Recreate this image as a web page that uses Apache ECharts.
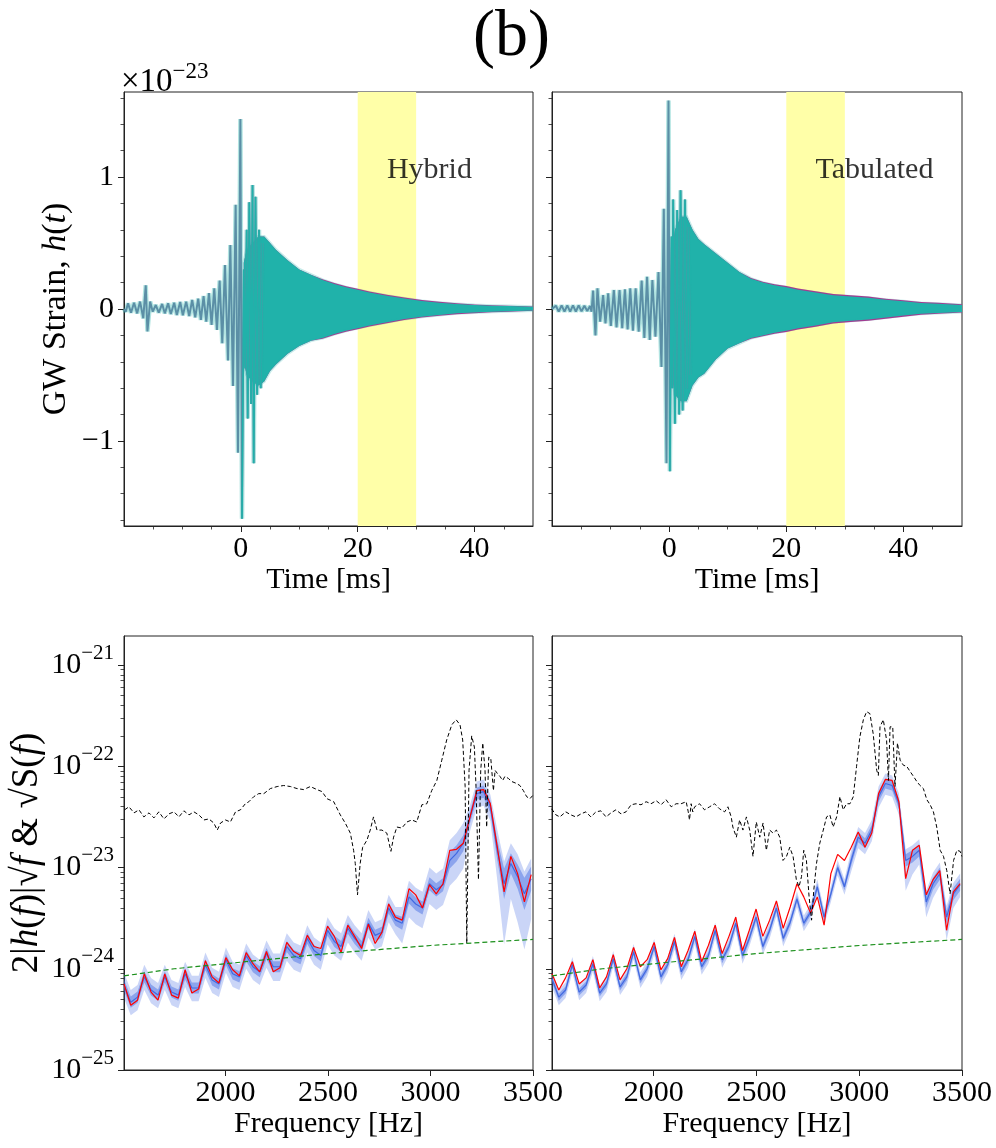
<!DOCTYPE html>
<html><head><meta charset="utf-8">
<script src="https://cdn.jsdelivr.net/npm/echarts@6/dist/echarts.min.js"></script>
<style>html,body{margin:0;padding:0;background:#fff}#c{width:996px;height:1148px}</style>
</head><body><div id="c"></div>
<script>
// ---------------- DATA ----------------
// Top panels: time [ms], strain in units of 1e-23
const windowMs = [20, 30];
const panelTitles = ['Hybrid', 'Tabulated'];
const labelPos = [25, 1.0];
// inspiral / merger peaks (line)
const tlPeakT = [-20,-19.7,-19.31,-18.8,-18.28,-17.75,-17.25,-16.7,-16.28,-15.99,-15.53,-15.08,-14.56,-14.05,-13.47,-13.02,-12.45,-11.99,-11.41,-10.96,-10.38,-9.93,-9.36,-8.84,-8.33,-7.81,-7.30,-6.84,-6.38,-5.92,-5.46,-5.01,-4.55,-4.09,-3.63,-3.18,-2.72,-2.20,-1.80,-1.35,-0.89,-0.49,-0.08,0.20,0.5,0.75,1.0,1.17,1.45,1.75,2.0,2.2,2.5,2.78,3.1,3.4,3.7];
const tlPeakH = [0.0,-0.02,0.043,-0.028,0.048,-0.033,0.056,-0.07,0.18,-0.17,0.056,-0.02,0.03,-0.028,0.038,-0.033,0.043,-0.038,0.048,-0.045,0.053,-0.048,0.056,-0.053,0.068,-0.063,0.078,-0.083,0.098,-0.096,0.12,-0.12,0.157,-0.159,0.215,-0.26,0.333,-0.39,0.485,-0.583,0.79,-1.09,1.44,-1.59,0.30,-0.45,0.60,-0.83,0.81,-0.72,0.94,-1.17,0.85,-0.65,0.6,-0.6,0.5];
const trPeakT = [-20,-19.8,-19.34,-18.85,-18.36,-17.87,-17.39,-16.9,-16.42,-15.93,-15.45,-14.96,-14.47,-13.98,-13.50,-13.25,-12.98,-12.58,-12.24,-11.78,-11.27,-10.87,-10.41,-9.95,-9.44,-8.98,-8.47,-8.01,-7.55,-7.09,-6.64,-6.18,-5.72,-5.20,-4.69,-4.23,-3.77,-3.31,-2.86,-2.34,-1.82,-1.31,-0.91,-0.45,-0.11,0.12,0.40,0.55,0.69,0.98,1.38,1.72,1.95,2.3,2.7,3.0,3.27,3.6];
const trPeakH = [0,-0.015,0.025,-0.02,0.028,-0.02,0.028,-0.02,0.028,-0.02,0.028,-0.018,0.025,-0.015,0.022,-0.02,0.14,-0.2,0.157,-0.096,0.106,-0.109,0.119,-0.129,0.144,-0.139,0.144,-0.146,0.149,-0.154,0.157,-0.164,0.157,-0.172,0.215,-0.22,0.245,-0.235,0.22,-0.21,0.28,-0.44,0.76,-1.17,1.58,-1.23,0.55,-0.6,0.83,-0.87,0.75,-0.8,0.9,-0.77,0.83,-0.6,0.62,-0.5];
// post-merger envelopes (dense ringdown)
const envT = [0.5,1,2,3,4,5,6,8,10,12,14,16,18,20,22,25,28,31,34,37,40,43,46,50];
const tlTealHi = [0.35,0.45,0.5,0.55,0.55,0.50,0.45,0.37,0.30,0.26,0.22,0.19,0.165,0.145,0.125,0.10,0.08,0.06,0.048,0.038,0.03,0.025,0.022,0.018];
const tlTealLo = [-0.40,-0.5,-0.55,-0.58,-0.55,-0.47,-0.42,-0.34,-0.28,-0.24,-0.22,-0.19,-0.165,-0.145,-0.125,-0.10,-0.075,-0.058,-0.045,-0.033,-0.027,-0.02,-0.018,-0.012];
const tlMagHi = [0.35,0.45,0.5,0.55,0.55,0.50,0.45,0.37,0.30,0.26,0.225,0.197,0.172,0.153,0.133,0.108,0.087,0.068,0.055,0.044,0.035,0.028,0.024,0.019];
const tlMagLo = [-0.40,-0.5,-0.55,-0.58,-0.55,-0.47,-0.42,-0.34,-0.28,-0.24,-0.225,-0.197,-0.172,-0.153,-0.133,-0.108,-0.083,-0.065,-0.052,-0.04,-0.032,-0.024,-0.02,-0.014];
const trTealHi = [0.45,0.6,0.7,0.7,0.6,0.53,0.49,0.42,0.35,0.28,0.23,0.2,0.18,0.165,0.145,0.125,0.105,0.095,0.085,0.07,0.058,0.045,0.04,0.03];
const trTealLo = [-0.5,-0.65,-0.7,-0.7,-0.58,-0.52,-0.49,-0.38,-0.30,-0.26,-0.22,-0.2,-0.18,-0.165,-0.145,-0.125,-0.10,-0.09,-0.08,-0.065,-0.05,-0.036,-0.03,-0.022];
const trMagHi = [0.45,0.6,0.7,0.7,0.6,0.53,0.49,0.42,0.35,0.28,0.235,0.207,0.188,0.174,0.155,0.134,0.114,0.104,0.094,0.078,0.066,0.053,0.047,0.036];
const trMagLo = [-0.5,-0.65,-0.7,-0.7,-0.58,-0.52,-0.49,-0.38,-0.30,-0.26,-0.225,-0.207,-0.188,-0.174,-0.155,-0.134,-0.11,-0.099,-0.089,-0.073,-0.058,-0.044,-0.036,-0.027];

// Bottom panels: frequency [Hz], values as log10 of amplitude
const freq = [1505,1538,1571,1604,1637,1671,1704,1737,1770,1803,1836,1869,1902,1935,1968,2002,2035,2068,2101,2134,2167,2200,2233,2266,2299,2333,2366,2399,2432,2465,2498,2531,2564,2597,2630,2664,2697,2730,2763,2796,2829,2862,2895,2928,2961,2995,3028,3061,3094,3127,3160,3193,3226,3259,3292,3326,3359,3392,3425,3458,3491];
const blRed = [-24.15,-24.36,-24.31,-24.05,-24.23,-24.31,-24.05,-24.26,-24.29,-24.01,-24.24,-24.20,-23.92,-24.08,-24.14,-23.89,-24.01,-24.07,-23.84,-23.95,-24.03,-23.83,-24.03,-23.99,-23.74,-23.83,-23.87,-23.67,-23.78,-23.80,-23.58,-23.68,-23.84,-23.57,-23.68,-23.80,-23.56,-23.75,-23.64,-23.36,-23.49,-23.52,-23.21,-23.27,-23.40,-23.17,-23.26,-23.16,-22.83,-22.82,-22.76,-22.50,-22.24,-22.23,-22.37,-22.80,-23.24,-22.89,-23.06,-23.34,-23.07];
const blMed = [-24.16,-24.33,-24.28,-24.08,-24.21,-24.26,-24.08,-24.23,-24.26,-24.05,-24.19,-24.19,-23.96,-24.11,-24.15,-23.91,-24.05,-24.08,-23.87,-23.98,-24.03,-23.85,-23.98,-23.98,-23.78,-23.87,-23.90,-23.70,-23.82,-23.87,-23.62,-23.73,-23.78,-23.60,-23.70,-23.78,-23.55,-23.67,-23.64,-23.40,-23.52,-23.55,-23.29,-23.36,-23.40,-23.16,-23.22,-23.17,-22.93,-22.86,-22.76,-22.50,-22.27,-22.25,-22.40,-22.83,-23.16,-22.96,-23.09,-23.26,-23.11];
const blW50 = [0.055,0.055,0.055,0.055,0.055,0.055,0.055,0.055,0.055,0.055,0.055,0.055,0.055,0.055,0.055,0.055,0.055,0.055,0.055,0.055,0.055,0.055,0.055,0.055,0.055,0.055,0.055,0.055,0.055,0.055,0.055,0.055,0.055,0.055,0.055,0.055,0.055,0.055,0.055,0.055,0.055,0.065,0.065,0.065,0.065,0.065,0.065,0.065,0.08,0.08,0.08,0.06,0.06,0.06,0.06,0.1,0.15,0.1,0.12,0.16,0.12];
const blW90hi = [0.12,0.12,0.12,0.12,0.12,0.12,0.12,0.12,0.12,0.12,0.12,0.12,0.12,0.12,0.12,0.12,0.12,0.12,0.12,0.12,0.12,0.13,0.13,0.13,0.13,0.13,0.13,0.13,0.13,0.13,0.13,0.13,0.13,0.13,0.13,0.13,0.13,0.13,0.13,0.13,0.13,0.16,0.16,0.16,0.16,0.16,0.16,0.16,0.2,0.2,0.2,0.12,0.12,0.12,0.12,0.2,0.22,0.2,0.22,0.22,0.2];
const blW90lo = [0.13,0.13,0.13,0.13,0.13,0.13,0.13,0.13,0.13,0.13,0.13,0.13,0.13,0.13,0.13,0.13,0.13,0.13,0.13,0.13,0.13,0.14,0.14,0.14,0.14,0.14,0.14,0.14,0.14,0.14,0.14,0.14,0.14,0.14,0.14,0.14,0.14,0.14,0.14,0.14,0.14,0.2,0.2,0.2,0.2,0.2,0.2,0.2,0.25,0.25,0.25,0.14,0.14,0.14,0.14,0.3,0.6,0.35,0.45,0.55,0.4];
const brRed = [-24.05,-24.21,-24.09,-23.93,-24.15,-24.09,-23.91,-24.19,-24.08,-23.86,-24.11,-24.00,-23.79,-23.98,-23.91,-23.74,-24.01,-23.90,-23.69,-23.98,-23.82,-23.63,-23.93,-23.77,-23.57,-23.85,-23.68,-23.49,-23.82,-23.62,-23.41,-23.68,-23.52,-23.33,-23.60,-23.39,-23.16,-23.29,-23.45,-23.29,-23.57,-23.06,-22.87,-22.93,-22.80,-22.65,-22.80,-22.66,-22.27,-22.13,-22.14,-22.35,-23.11,-22.83,-22.78,-23.27,-23.12,-23.03,-23.62,-23.24,-23.16];
const brMed = [-24.10,-24.28,-24.21,-23.96,-24.23,-24.16,-23.95,-24.24,-24.15,-23.90,-24.18,-24.08,-23.83,-24.11,-24.00,-23.78,-24.08,-23.96,-23.73,-24.03,-23.91,-23.68,-23.98,-23.87,-23.62,-23.91,-23.78,-23.55,-23.87,-23.70,-23.49,-23.78,-23.62,-23.40,-23.70,-23.54,-23.31,-23.55,-23.44,-23.19,-23.49,-23.26,-23.00,-23.19,-22.93,-22.70,-22.76,-22.63,-22.30,-22.17,-22.19,-22.37,-22.93,-22.89,-22.83,-23.34,-23.16,-23.06,-23.49,-23.26,-23.17];
const brW50 = [0.035,0.035,0.035,0.035,0.035,0.035,0.035,0.035,0.035,0.035,0.035,0.035,0.035,0.035,0.035,0.035,0.035,0.035,0.035,0.035,0.035,0.035,0.035,0.035,0.035,0.035,0.035,0.035,0.035,0.035,0.035,0.035,0.035,0.035,0.035,0.035,0.035,0.035,0.035,0.035,0.035,0.035,0.035,0.035,0.05,0.05,0.05,0.05,0.05,0.05,0.05,0.05,0.06,0.06,0.06,0.06,0.06,0.06,0.06,0.06,0.06];
const brW90hi = [0.075,0.075,0.075,0.075,0.075,0.075,0.075,0.075,0.075,0.075,0.075,0.075,0.075,0.075,0.075,0.075,0.075,0.075,0.075,0.075,0.075,0.075,0.075,0.075,0.075,0.075,0.075,0.075,0.075,0.075,0.075,0.075,0.075,0.075,0.075,0.075,0.075,0.075,0.075,0.075,0.075,0.075,0.075,0.075,0.1,0.1,0.1,0.1,0.1,0.1,0.1,0.1,0.11,0.11,0.11,0.11,0.11,0.11,0.11,0.11,0.11];
const brW90lo = [0.08,0.08,0.08,0.08,0.08,0.08,0.08,0.08,0.08,0.08,0.08,0.08,0.08,0.08,0.08,0.08,0.08,0.08,0.08,0.08,0.08,0.08,0.08,0.08,0.08,0.08,0.08,0.08,0.08,0.08,0.08,0.08,0.08,0.08,0.08,0.08,0.08,0.08,0.08,0.08,0.08,0.08,0.08,0.08,0.11,0.11,0.11,0.11,0.11,0.11,0.11,0.11,0.3,0.18,0.14,0.15,0.14,0.12,0.23,0.14,0.12];
// black dashed spectra
const blBlkF = [1508,1529,1554,1578,1602,1627,1651,1675,1700,1724,1749,1773,1797,1822,1846,1870,1895,1919,1943,1960,1976,2000,2024,2049,2073,2097,2114,2138,2162,2187,2219,2252,2284,2317,2349,2381,2414,2446,2471,2495,2528,2560,2584,2609,2625,2633,2644,2657,2669,2690,2706,2722,2739,2763,2787,2807,2820,2836,2860,2885,2909,2933,2958,2982,3006,3031,3055,3079,3104,3125,3144,3157,3169,3177,3188,3201,3214,3222,3234,3245,3255,3266,3274,3284,3294,3307,3315,3326,3339,3352,3363,3380,3396,3420,3436,3453,3469,3485,3498];
const blBlk = [-22.43,-22.40,-22.46,-22.43,-22.50,-22.46,-22.51,-22.45,-22.52,-22.47,-22.45,-22.50,-22.44,-22.48,-22.45,-22.48,-22.53,-22.52,-22.56,-22.63,-22.56,-22.53,-22.55,-22.45,-22.43,-22.37,-22.35,-22.30,-22.27,-22.27,-22.22,-22.20,-22.19,-22.20,-22.22,-22.23,-22.20,-22.23,-22.25,-22.32,-22.35,-22.48,-22.56,-22.66,-22.83,-22.96,-23.27,-22.96,-22.80,-22.73,-22.63,-22.50,-22.63,-22.63,-22.66,-22.84,-22.70,-22.60,-22.61,-22.55,-22.53,-22.55,-22.38,-22.37,-22.24,-22.14,-21.94,-21.74,-21.59,-21.54,-21.59,-21.74,-22.20,-23.75,-22.04,-21.70,-21.81,-22.20,-23.12,-22.04,-21.77,-22.04,-22.60,-21.91,-21.92,-22.24,-22.04,-22.07,-22.10,-22.14,-22.10,-22.12,-22.15,-22.17,-22.19,-22.24,-22.30,-22.32,-22.29];
const brBlkF = [1503,1524,1543,1572,1597,1621,1646,1670,1694,1719,1743,1768,1792,1816,1841,1865,1890,1914,1938,1963,1987,2012,2036,2060,2085,2109,2133,2158,2168,2174,2182,2190,2199,2223,2247,2272,2296,2320,2345,2361,2377,2385,2402,2418,2434,2451,2467,2483,2499,2516,2532,2548,2564,2581,2597,2613,2629,2646,2662,2678,2694,2707,2719,2730,2743,2756,2768,2779,2792,2808,2825,2841,2857,2873,2890,2906,2922,2938,2955,2971,2987,3003,3020,3036,3052,3068,3085,3093,3101,3117,3133,3142,3150,3163,3174,3186,3199,3215,3231,3247,3264,3280,3296,3312,3329,3345,3361,3377,3394,3410,3426,3442,3459,3475,3491,3499];
const brBlk = [-22.42,-22.48,-22.50,-22.45,-22.48,-22.50,-22.47,-22.45,-22.50,-22.45,-22.44,-22.50,-22.46,-22.43,-22.47,-22.45,-22.38,-22.37,-22.38,-22.35,-22.37,-22.34,-22.38,-22.33,-22.40,-22.37,-22.37,-22.35,-22.45,-22.53,-22.37,-22.45,-22.40,-22.37,-22.43,-22.40,-22.37,-22.42,-22.45,-22.40,-22.50,-22.60,-22.70,-22.53,-22.63,-22.50,-22.63,-22.89,-22.55,-22.70,-22.56,-22.83,-22.63,-22.66,-22.63,-22.70,-22.93,-22.89,-22.80,-22.89,-23.12,-23.19,-23.09,-22.83,-22.93,-23.29,-23.52,-23.22,-22.96,-22.76,-22.63,-22.50,-22.48,-22.60,-22.50,-22.30,-22.43,-22.37,-22.37,-22.30,-22.00,-21.71,-21.54,-21.46,-21.48,-21.68,-22.04,-22.09,-21.61,-21.54,-21.74,-22.14,-21.61,-21.61,-22.20,-21.77,-21.94,-21.99,-22.00,-22.05,-22.10,-22.15,-22.19,-22.22,-22.33,-22.38,-22.45,-22.60,-22.83,-22.89,-23.03,-23.26,-22.93,-22.83,-22.84,-22.89];
// green dashed (detector noise)
const noiseF = [1505,1750,2000,2250,2500,2750,3000,3250,3500];
const noiseLog = [-24.07,-24.00,-23.95,-23.90,-23.85,-23.81,-23.77,-23.74,-23.71];

// tick labels
const timeTicks = [0, 20, 40];
const timeMinor = [-15,-10,-5,5,10,15,25,30,35,45];
const strainTicks = [-1, 0, 1];
const strainMinor = [-1.6,-1.4,-1.2,-0.8,-0.6,-0.4,-0.2,0.2,0.4,0.6,0.8,1.2,1.4,1.6];
const freqTicks = [2000, 2500, 3000, 3500];
const decadeTicks = [-25, -24, -23, -22, -21];

// ---------------- CHART ----------------
const FONT = '"Liberation Serif","DejaVu Serif",serif';
const INK = '#222';
const STRAIN_MAX = 1.645, LOG_MIN = -25, LOG_MAX = -20.713, F_MIN = 1505, F_MAX = 3500;
const logMinor = [];
decadeTicks.forEach(n => { for (let k = 2; k <= 9; k++) { const v = n + Math.log10(k); if (v < LOG_MAX) logMinor.push(v); } });

const grids = [
  {left:124, top:92, width:409, height:434, show:true, borderColor:INK, borderWidth:1},
  {left:552, top:92, width:410, height:434, show:true, borderColor:INK, borderWidth:1},
  {left:124, top:636, width:409, height:434, show:true, borderColor:INK, borderWidth:1},
  {left:552, top:636, width:410, height:434, show:true, borderColor:INK, borderWidth:1}
];
const minus = v => (v < 0 ? '\u2212' + (-v) : String(v));
const mkName = fs => ({fontFamily:FONT, fontSize:fs, color:'#000',
  rich:{i:{fontFamily:FONT, fontSize:fs, fontStyle:'italic', color:'#000'}}});
const labStyle = {fontFamily:FONT, fontSize:30, color:'#000'};

function mainX(g, min, max, ticks, name, gap, fmt) {
  return {type:'value', gridIndex:g, position:'bottom', min, max, splitLine:{show:false},
    axisLine:{show:true, onZero:false, lineStyle:{color:INK, width:1}},
    axisTick:{show:true, inside:false, length:6, customValues:ticks, lineStyle:{color:INK, width:1}},
    axisLabel:Object.assign({customValues:ticks, margin:8, formatter:fmt}, labStyle),
    name, nameLocation:'middle', nameGap:gap, nameTextStyle:mkName(30)};
}
function minorAxis(g, min, max, ticks, pos) {
  return {type:'value', gridIndex:g, position:pos, min, max, splitLine:{show:false},
    axisLine:{show:false, onZero:false},
    axisTick:{show:true, inside:false, length:3.5, customValues:ticks, lineStyle:{color:INK, width:0.8}},
    axisLabel:{show:false}};
}
function mainY(g, min, max, ticks, showLab, fmt, name, gap, fs, extraLab) {
  return {type:'value', gridIndex:g, position:'left', min, max, splitLine:{show:false},
    axisLine:{show:true, onZero:false, lineStyle:{color:INK, width:1}},
    axisTick:{show:true, inside:false, length:6, customValues:ticks, lineStyle:{color:INK, width:1}},
    axisLabel:Object.assign({show:showLab, customValues:ticks, margin:10, formatter:fmt}, labStyle, extraLab || {}),
    name: name || '', nameLocation:'middle', nameRotate:90, nameGap:gap || 0, nameTextStyle:mkName(fs || 30)};
}
const decadeFmt = v => '{b|10}{s|\u2212' + Math.round(-v) + '}';
const decadeRich = {rich:{b:{fontFamily:FONT, fontSize:30, color:'#000'}, s:{fontFamily:FONT, fontSize:21, color:'#000', padding:[0,0,24,0]}}};

const xAxis = [
  mainX(0, -20, 50, timeTicks, 'Time [ms]', 36, minus),
  minorAxis(0, -20, 50, timeMinor, 'bottom'),
  mainX(1, -20, 50, timeTicks, 'Time [ms]', 36, minus),
  minorAxis(1, -20, 50, timeMinor, 'bottom'),
  mainX(2, F_MIN, F_MAX, freqTicks, 'Frequency [Hz]', 38, v => String(v)),
  mainX(3, F_MIN, F_MAX, freqTicks, 'Frequency [Hz]', 38, v => String(v))
];
const yAxis = [
  mainY(0, -STRAIN_MAX, STRAIN_MAX, strainTicks, true, minus, 'GW Strain, {i|h}({i|t})', 51, 34),
  minorAxis(0, -STRAIN_MAX, STRAIN_MAX, strainMinor, 'left'),
  mainY(1, -STRAIN_MAX, STRAIN_MAX, strainTicks, false, minus),
  minorAxis(1, -STRAIN_MAX, STRAIN_MAX, strainMinor, 'left'),
  mainY(2, LOG_MIN, LOG_MAX, decadeTicks, true, decadeFmt, '2|{i|h}({i|f})|\u221A{i|f} & \u221AS({i|f})', 78, 37, decadeRich),
  minorAxis(2, LOG_MIN, LOG_MAX, logMinor, 'left'),
  mainY(3, LOG_MIN, LOG_MAX, decadeTicks, false, decadeFmt),
  minorAxis(3, LOG_MIN, LOG_MAX, logMinor, 'left')
];

function polygon(xi, yi, xs, hi, lo, fill, stroke, lw, z) {
  return {type:'custom', xAxisIndex:xi, yAxisIndex:yi, z, silent:true, clip:true,
    data:[[xs[0], hi[0]]],
    renderItem:(p, api) => {
      const pts = [];
      for (let i = 0; i < xs.length; i++) pts.push(api.coord([xs[i], hi[i]]));
      for (let i = xs.length - 1; i >= 0; i--) pts.push(api.coord([xs[i], lo[i]]));
      return {type:'polygon', shape:{points:pts}, style:{fill, stroke:stroke || 'none', lineWidth:lw || 0}};
    }};
}
function band(xi, yi, win, ymin, ymax, color, z) {
  return {type:'custom', xAxisIndex:xi, yAxisIndex:yi, z, silent:true,
    data:[[win[0], ymax]],
    renderItem:(p, api) => {
      const a = api.coord([win[0], ymax]), b = api.coord([win[1], ymin]);
      return {type:'rect', shape:{x:a[0], y:a[1], width:b[0]-a[0], height:b[1]-a[1]}, style:{fill:color}};
    }};
}
function line(xi, yi, xs, ys, color, width, type, z) {
  return {type:'line', xAxisIndex:xi, yAxisIndex:yi, z, silent:true, showSymbol:false, symbol:'none',
    animation:false, data:xs.map((x, i) => [x, ys[i]]),
    lineStyle:{color, width, type:type || 'solid'}};
}
function textMark(xi, yi, pos, txt) {
  return {type:'scatter', xAxisIndex:xi, yAxisIndex:yi, z:20, silent:true, symbolSize:0,
    data:[pos], label:{show:true, position:'top', distance:0, align:'left', offset:[0, 8], formatter:txt,
      fontFamily:FONT, fontSize:30, color:'#000'}};
}
const add = (a, b) => a.map((v, i) => v + b[i]);
const sub = (a, b) => a.map((v, i) => v - b[i]);

const TEAL = '#20b2aa', MAG = '#cc1588', SLATE = '#5b8fa6';
function topPanel(p, peakT, peakH, tHi, tLo, mHi, mLo, title) {
  const xi = p * 2, yi = p * 2;
  const k = peakT.findIndex(t => t > 0.1);   // ringdown part of the peak list
  return [
    band(xi, yi, windowMs, -STRAIN_MAX, STRAIN_MAX, '#ffffa8', 1),
    polygon(xi, yi, envT, mHi, mLo, MAG, null, 0, 2),
    polygon(xi, yi, envT, tHi, tLo, TEAL, 'rgba(32,178,170,0.25)', 3, 3),
    line(xi, yi, peakT, peakH, 'rgba(32,178,170,0.35)', 4.5, 'solid', 4),
    line(xi, yi, peakT, peakH, SLATE, 2, 'solid', 5),
    line(xi, yi, peakT.slice(k), peakH.slice(k), TEAL, 1.6, 'solid', 6),
    textMark(xi, yi, labelPos, title)
  ];
}
function botPanel(xi, yi, red, med, w50, w90hi, w90lo, bf, blk) {
  return [
    polygon(xi, yi, freq, add(med, w90hi), sub(med, w90lo), 'rgba(65,105,225,0.28)', null, 0, 2),
    polygon(xi, yi, freq, add(med, w50), sub(med, w50), 'rgba(65,105,225,0.45)', null, 0, 3),
    line(xi, yi, freq, med, '#4169e1', 1.2, 'solid', 4),
    line(xi, yi, freq, red, '#ff0000', 1.2, 'solid', 5),
    line(xi, yi, bf, blk, '#000', 1, [4, 2.5], 6),
    line(xi, yi, noiseF, noiseLog, '#1a8f1a', 1.2, [5, 3], 7)
  ];
}

const series = [].concat(
  topPanel(0, tlPeakT, tlPeakH, tlTealHi, tlTealLo, tlMagHi, tlMagLo, panelTitles[0]),
  topPanel(1, trPeakT, trPeakH, trTealHi, trTealLo, trMagHi, trMagLo, panelTitles[1]),
  botPanel(4, 4, blRed, blMed, blW50, blW90hi, blW90lo, blBlkF, blBlk),
  botPanel(5, 6, brRed, brMed, brW50, brW90hi, brW90lo, brBlkF, brBlk)
);

const chart = echarts.init(document.getElementById('c'));
chart.setOption({
  animation:false,
  backgroundColor:'#fff',
  title:{text:'(b)', left:468, top:0, textStyle:{fontFamily:FONT, fontSize:66, fontWeight:'normal', color:'#000'}},
  grid:grids, xAxis, yAxis, series,
  graphic:[{type:'text', left:121, top:60, style:{text:'{a|\u00D710}{s|\u221223}',
    rich:{a:{fontFamily:FONT, fontSize:33, fill:'#000'}, s:{fontFamily:FONT, fontSize:23, fill:'#000', padding:[0,0,22,0]}}}}]
});
</script></body></html>
